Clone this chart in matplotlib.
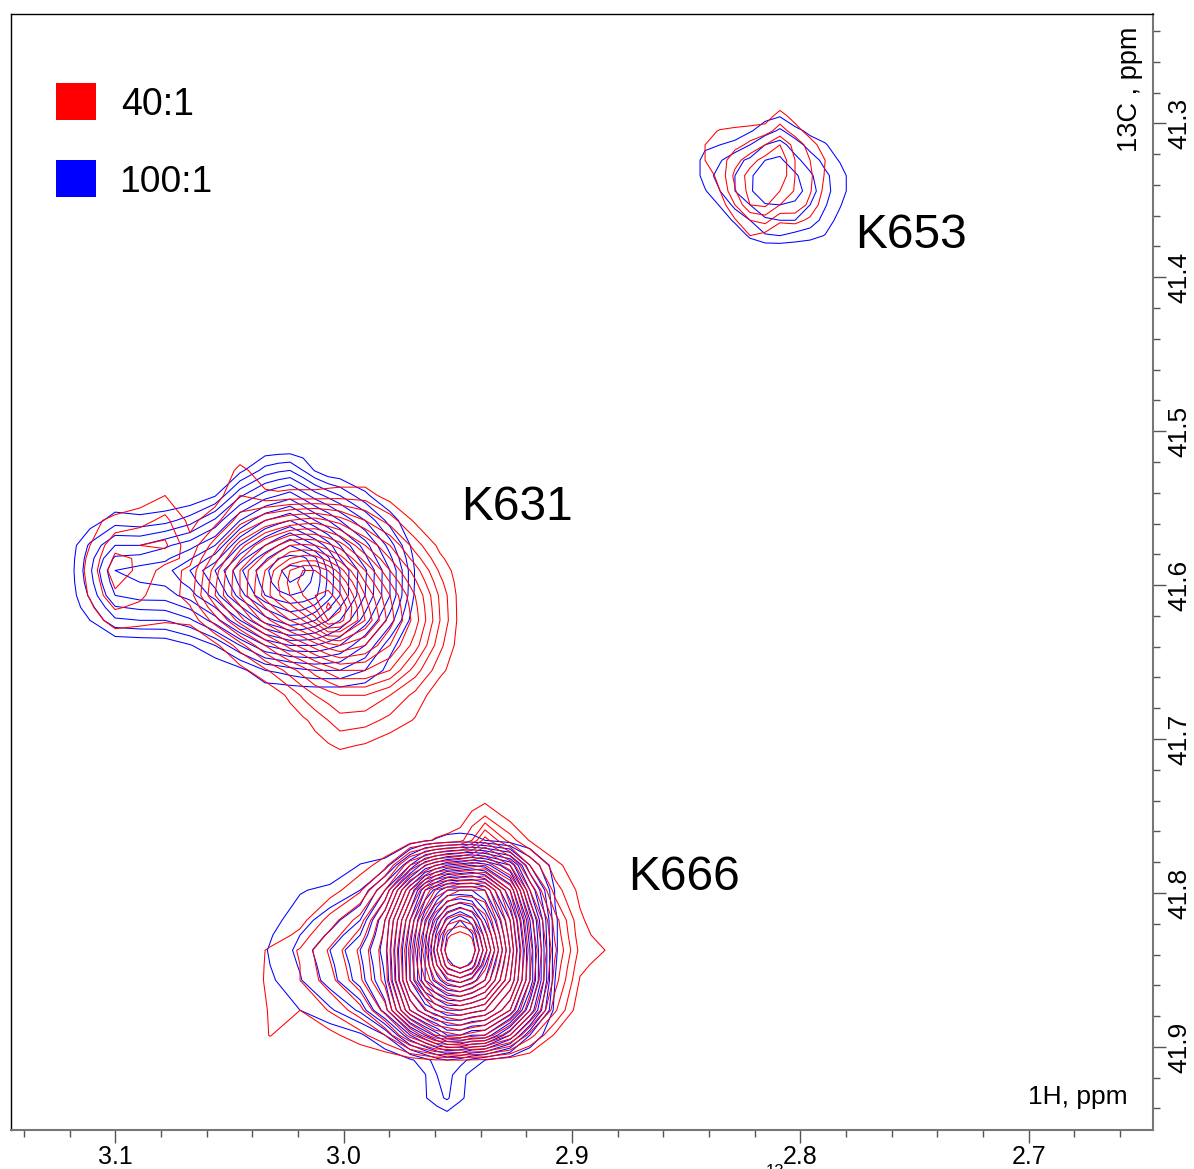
import numpy as np
import matplotlib
matplotlib.use("Agg")
import matplotlib.pyplot as plt
from matplotlib.patches import Rectangle
from matplotlib.ticker import MultipleLocator

plt.rcParams['font.family'] = ['Liberation Sans', 'DejaVu Sans']

W, H = 1194, 1169
LEFT, RIGHT, TOP, BOTTOM = 11, 1153, 14, 1130

# peak intensities, in units of one contour level
# K631
k631_h = [3.1220, 3.1111, 3.1001, 3.0892, 3.0782, 3.0673, 3.0563, 3.0454, 3.0344, 3.0287, 3.0235, 3.0178, 3.0125, 3.0068, 3.0016, 2.9906, 2.9797, 2.9687, 2.9578, 2.9468]
k631_c = [41.5093, 41.5255, 41.5418, 41.5580, 41.5742, 41.5827, 41.5905, 41.5982, 41.6067, 41.6145, 41.6229, 41.6392, 41.6554, 41.6716, 41.6879, 41.7041, 41.7203]
k631_red = [
    [0, 0, 0, 0, 0, 0, 0, 0, 0, 0, 0, 0, 0, 0, 0, 0, 0, 0, 0, 0],
    [0, 0, 0, 0, 0, 0, 0, 1.3, .4, 0, 0, 0, 0, 0, 0, 0, 0, 0, 0, 0],
    [0, 0, 0, .4, 1.0, 0, .5, 2, 1.2, 1.2, 1.3, 1.3, 1.3, 1.4, 1.5, 1.5, .5, 0, 0, 0],
    [0, .7, 1.3, 1.6, 2.3, .7, 1.6, 3.5, 5, 5.5, 6, 6.3, 6.5, 6, 5.5, 4, 2.5, .8, 0, 0],
    [0, 1, 2.7, 3, 3.2, 1.3, 3.5, 6.5, 9, 10, 11, 11.2, 11, 10.3, 9.5, 7, 5, 2.5, .7, 0],
    [0, 1.2, 3.2, 2.9, 2.4, 1.7, 4.5, 7.8, 10.5, 11.8, 13, 13.5, 13.5, 12.5, 11.5, 8.5, 6, 3.5, 1.2, 0],
    [0, 1.3, 3.7, 2.7, 1.6, 2.2, 5.5, 9, 12, 13.5, 15, 16, 16, 15, 13.5, 10, 7, 4.5, 1.8, 0],
    [0, 1.2, 3.2, 2.4, 1.5, 2.3, 5.8, 9, 12.3, 14, 15.3, 16.5, 16.6, 16.2, 15, 11, 8, 5.2, 2.3, 0],
    [0, 1.1, 2.8, 2.2, 1.3, 2.5, 6, 9, 12.5, 13.8, 15, 16, 17, 17.5, 16.2, 12, 9, 6, 2.8, 0],
    [0, .8, 2.1, 1.8, 1.2, 1.9, 4.8, 7.8, 11, 12.5, 13.5, 15, 16, 18.3, 17.2, 12.5, 9.3, 6.3, 2.9, 0],
    [0, .4, 1.5, 1.3, 1.1, 1.2, 3.5, 6.5, 9.5, 10.8, 12, 13, 14.5, 17, 16.5, 13, 9.5, 6.5, 3, 0],
    [0, 0, 0, 0, 0, .1, .7, 2.5, 5, 6.3, 7.5, 8.5, 9.5, 10.5, 11, 10, 8, 5.5, 2.3, 0],
    [0, 0, 0, 0, 0, 0, 0, .6, 1.8, 2.6, 3.5, 4.5, 5.5, 6.3, 7, 7, 6, 3.5, 1.3, 0],
    [0, 0, 0, 0, 0, 0, 0, 0, 0, .6, 1.3, 2.2, 3, 3.5, 4, 4, 3, 1.7, .2, 0],
    [0, 0, 0, 0, 0, 0, 0, 0, 0, 0, .3, .8, 1.3, 2, 2.6, 2.4, 1.7, .9, 0, 0],
    [0, 0, 0, 0, 0, 0, 0, 0, 0, 0, 0, 0, .6, .9, 1.2, .9, .3, 0, 0, 0],
    [0, 0, 0, 0, 0, 0, 0, 0, 0, 0, 0, 0, 0, 0, 0, 0, 0, 0, 0, 0],
]
k631_blue = [
    [0, 0, 0, 0, 0, 0, 0, 0, 0, 0, 0, 0, 0, 0, 0, 0, 0, 0, 0, 0],
    [0, 0, 0, 0, 0, 0, 0, .7, 2.4, 2.8, 3, 2, .9, .1, 0, 0, 0, 0, 0, 0],
    [0, 0, 0, 0, 0, 0, .9, 3.8, 5.5, 6, 6.5, 5.5, 4.5, 3.7, 3, 1.2, .1, 0, 0, 0],
    [0, .4, 1.5, 1.3, 1.6, 2.5, 4.2, 7, 9, 9.5, 10, 9, 8, 7, 6, 4, 1.5, 0, 0, 0],
    [0, 2.2, 4, 4, 4.8, 5.6, 7, 10, 12, 13, 14, 13, 12, 10.5, 9, 6.5, 3.5, .4, 0, 0],
    [0, 2.6, 5.2, 5.4, 5.8, 6.9, 8.5, 11.5, 13.8, 15, 15.3, 15.3, 14.2, 12.2, 10, 7.3, 4.3, .7, 0, 0],
    [0, 2.8, 6, 6.4, 6.6, 8, 10, 12.8, 14.7, 15.8, 16.5, 16.3, 14.8, 12.8, 11, 8.2, 5, .9, 0, 0],
    [0, 2.6, 5.6, 6, 6.2, 7.4, 9.4, 12.3, 14.5, 15.5, 16, 15.5, 14.7, 12.8, 11, 8.1, 5, .9, 0, 0],
    [0, 2.2, 5, 5.5, 5.5, 6.5, 8.5, 11.5, 14, 14.7, 15, 14.8, 14.3, 12.6, 11, 8, 5, .8, 0, 0],
    [0, 1.6, 3.9, 4.2, 4.3, 5.2, 7, 9.8, 12.2, 13, 13.5, 13.3, 12.6, 11.2, 10, 7.3, 4.3, .5, 0, 0],
    [0, 1, 2.8, 3, 3, 3.8, 5.5, 8, 10.5, 11.2, 12, 11.7, 11, 10, 9, 6.5, 3.5, .2, 0, 0],
    [0, 0, 0, .1, .2, .9, 2, 4, 6, 6.5, 7, 7, 7, 6.5, 6, 4, 1.3, 0, 0, 0],
    [0, 0, 0, 0, 0, 0, 0, .6, 2, 2.2, 2.5, 2.8, 3, 3, 3, 2, .6, 0, 0, 0],
    [0, 0, 0, 0, 0, 0, 0, 0, 0, 0, 0, 0, 0, 0, 0, 0, 0, 0, 0, 0],
]
k631_c_blue = k631_c[:14]

# K666
k666_h_red = [3.0454, 3.0322, 3.0191, 3.0060, 2.9928, 2.9819, 2.9709, 2.9600, 2.9543, 2.9490, 2.9438, 2.9381, 2.9271, 2.9184, 2.9074, 2.8965, 2.8855, 2.8768]
k666_c_red = [41.7333, 41.7495, 41.7658, 41.7820, 41.7982, 41.8177, 41.8274, 41.8372, 41.8469, 41.8567, 41.8762, 41.8924, 41.9086, 41.9249]
k666_red = [
    [0, 0, 0, 0, 0, 0, 0, 0, 0, 0, 0, 0, 0, 0, 0, 0, 0, 0],
    [0, 0, 0, 0, 0, 0, 0, 0, .2, .4, 1.2, 1.9, .5, 0, 0, 0, 0, 0],
    [0, 0, 0, 0, 0, 0, .3, 1.1, 1.3, 1.6, 3, 5.5, 2.5, .9, 0, 0, 0, 0],
    [0, 0, 0, 0, .5, 1.5, 6, 9, 9.5, 10, 10.5, 11, 8, 4, 1.3, .3, 0, 0],
    [0, 0, 0, .5, 1.8, 5, 11, 16, 17, 18, 18, 18, 13, 7, 2.5, .7, 0, 0],
    [0, 0, .6, 2.4, 4.5, 8, 14, 20, 22.3, 23, 22.3, 20.5, 15, 9.5, 4.5, 1.2, .1, 0],
    [0, .3, 1.3, 3.3, 5.4, 8.3, 14.8, 21.5, 24.8, 25.6, 24.8, 21.5, 15.5, 10, 4.8, 1.4, .5, 0],
    [0, 1.2, 2.1, 4.2, 6.2, 8.6, 15.5, 22.5, 25.7, 28, 25.8, 22.5, 16, 10.5, 5.2, 1.7, 1, 0],
    [.2, 1.2, 2, 3.9, 6, 8.5, 15.2, 21.5, 24.8, 25.6, 24.8, 21.5, 15.5, 10.2, 4.8, 1.3, .5, 0],
    [.3, 1.2, 2, 3.6, 5.8, 8.4, 15, 20, 21.7, 22.5, 21.7, 20, 15, 10, 4.5, .9, 0, 0],
    [0, 1.1, 1.0, 2.1, 3.6, 6.5, 12, 15, 15.5, 16, 15.5, 15, 12, 8, 3.2, .2, 0, 0],
    [0, 1.05, .1, .7, 1.6, 3, 6.5, 10, 10.5, 11, 10.5, 10, 7, 3.5, .8, 0, 0, 0],
    [0, 0, 0, 0, 0, 0, .4, .9, .95, 1.0, .9, .8, .3, 0, 0, 0, 0, 0],
    [0, 0, 0, 0, 0, 0, 0, 0, 0, 0, 0, 0, 0, 0, 0, 0, 0, 0],
]
k666_h_blue = [3.0454, 3.0322, 3.0191, 3.0060, 2.9928, 2.9819, 2.9709, 2.9643, 2.9591, 2.9547, 2.9490, 2.9438, 2.9381, 2.9271, 2.9184, 2.9074, 2.8965]
k666_c_blue = [41.7495, 41.7658, 41.7820, 41.7982, 41.8177, 41.8274, 41.8372, 41.8469, 41.8567, 41.8762, 41.8924, 41.9086, 41.9183, 41.9332, 41.9423, 41.9508]
k666_blue = [
    [0, 0, 0, 0, 0, 0, 0, 0, 0, 0, 0, 0, 0, 0, 0, 0, 0],
    [0, 0, 0, 0, 0, 0, .3, .85, 1.1, 1.3, 1.4, 1.3, 1, .3, 0, 0, 0],
    [0, 0, 0, 0, 1.05, 1.4, 5, 8, 9, 10, 10.5, 11, 10.5, 8, 3, .4, 0],
    [0, 0, .9, 1.3, 2, 5, 11, 15, 16.5, 18, 18, 18, 17, 12, 6, .9, 0],
    [0, .6, 1.6, 2.5, 4, 8, 14, 18, 21, 23.5, 25, 23.5, 20, 15, 9, 1.1, 0],
    [0, .9, 2, 3.2, 5, 8.3, 14.5, 18.5, 22.5, 25, 26.6, 25.2, 21.5, 15.5, 9.5, 1.1, 0],
    [0, 1.1, 2.3, 4, 6, 8.5, 15, 19, 23, 25.6, 28, 25.9, 22.5, 16, 10, 1.1, 0],
    [0, 1, 2.1, 3.7, 5.7, 8.2, 15, 19, 22, 24.4, 25.7, 24.6, 21, 15.5, 10, 1.05, 0],
    [0, .8, 1.9, 3.5, 5.5, 8, 15, 19, 20.5, 22, 22.5, 21.5, 20, 15, 10, 1, 0],
    [0, 0, 1, 1.8, 3.2, 6.5, 12, 14, 15, 16, 16, 15.5, 15, 12, 7, .5, 0],
    [0, 0, 0, .3, .8, 2, 6, 8, 9.5, 11, 11, 10, 10, 6, 2, 0, 0],
    [0, 0, 0, 0, 0, .2, .8, 1.6, 2.5, 3, 2.5, 1.6, 1, .2, 0, 0, 0],
    [0, 0, 0, 0, 0, 0, 0, .95, 2, 2.5, 1.3, .7, 0, 0, 0, 0, 0],
    [0, 0, 0, 0, 0, 0, 0, .9, 1.7, 2.15, 1.2, .6, 0, 0, 0, 0, 0],
    [0, 0, 0, 0, 0, 0, 0, 0, .5, .95, .4, 0, 0, 0, 0, 0, 0],
    [0, 0, 0, 0, 0, 0, 0, 0, 0, 0, 0, 0, 0, 0, 0, 0, 0],
]

# K653
k653_h = [2.8483, 2.8417, 2.8351, 2.8286, 2.8220, 2.8154, 2.8089, 2.8023, 2.7957, 2.7891, 2.7826, 2.7760]
k653_c = [41.285, 41.295, 41.305, 41.314, 41.324, 41.334, 41.344, 41.353, 41.363, 41.373, 41.383]
k653_red = [
    [0, 0, 0, 0, 0, 0, 0, 0, 0, 0, 0, 0],
    [0, 0, 0, 0, 0, .3, 1.5, .4, 0, 0, 0, 0],
    [0, .6, 1.1, 1.3, 1.5, 1.6, 2.4, 1.6, .4, 0, 0, 0],
    [0, 1.0, 1.3, 1.7, 2.2, 3, 4, 2.6, 1.6, .3, 0, 0],
    [0, 1.0, 1.5, 2.6, 3.6, 4.4, 4.8, 3, 2, 1, 0, 0],
    [0, .5, 1.3, 3.3, 4.4, 5, 4.8, 3, 2.2, .9, 0, 0],
    [0, 0, 1, 2.9, 4.4, 5, 4, 2.9, 2.1, .7, 0, 0],
    [0, 0, .4, 2, 4, 4.2, 3, 2.8, 1.7, .4, 0, 0],
    [0, 0, 0, .9, 2, 2.4, 1.2, 1.3, .8, 0, 0, 0],
    [0, 0, 0, .2, 1, .6, 0, 0, 0, 0, 0, 0],
    [0, 0, 0, 0, 0, 0, 0, 0, 0, 0, 0, 0],
]
k653_blue = [
    [0, 0, 0, 0, 0, 0, 0, 0, 0, 0, 0, 0],
    [0, 0, 0, 0, 0, .7, .9, 0, 0, 0, 0, 0],
    [0, 0, 0, .4, .9, 1.5, 2.2, 1.4, .7, .4, 0, 0],
    [0, .7, 1.0, 1.3, 2, 3, 3.4, 2.5, 1.6, 1.1, .4, 0],
    [0, 1.5, 1.9, 2.7, 3.2, 4, 4.2, 3.3, 2.5, 1.7, .9, .2],
    [0, 1.5, 2.4, 3, 3.8, 4.8, 5, 4.2, 3.2, 2.2, 1.5, .3],
    [0, .9, 2, 3, 3.8, 5, 5.2, 4.5, 3.5, 2.3, 1.5, .3],
    [0, .2, 1.1, 2.3, 3, 3.9, 4, 3.8, 3, 2.1, 1.1, 0],
    [0, 0, .3, 1.2, 2, 2.8, 3, 3, 2.6, 1.6, .6, 0],
    [0, 0, 0, .2, 1.2, 1.9, 2, 1.7, 1.4, .95, 0, 0],
    [0, 0, 0, 0, 0, 0, 0, 0, 0, 0, 0, 0],
]

contour_levels = list(range(1, 26))
k653_levels = [1, 2, 3, 4]

x_ticks = [3.1, 3.0, 2.9, 2.8, 2.7]
y_ticks = [41.3, 41.4, 41.5, 41.6, 41.7, 41.8, 41.9]
peak_names = ["K653", "K631", "K666"]
series_names = ["40:1", "100:1"]


def fx(px):
    return px / W


def fy(py):
    return 1 - py / H


fig = plt.figure(figsize=(W / 100, H / 100), dpi=100)
ax = fig.add_axes([fx(LEFT), fy(BOTTOM), (RIGHT - LEFT) / W, (BOTTOM - TOP) / H])

ax.contour(k631_h, k631_c_blue, np.array(k631_blue), levels=contour_levels, colors="#0000ff", linewidths=0.75)
ax.contour(k666_h_blue, k666_c_blue, np.array(k666_blue), levels=contour_levels, colors="#0000ff", linewidths=0.75)
ax.contour(k653_h, k653_c, np.array(k653_blue), levels=k653_levels, colors="#0000ff", linewidths=0.75)
ax.contour(k631_h, k631_c, np.array(k631_red), levels=contour_levels, colors="#ff0000", linewidths=0.75)
ax.contour(k666_h_red, k666_c_red, np.array(k666_red), levels=contour_levels, colors="#ff0000", linewidths=0.75)
ax.contour(k653_h, k653_c, np.array(k653_red), levels=k653_levels, colors="#ff0000", linewidths=0.75)

ax.set_xlim(3.1457, 2.6455)
ax.set_ylim(41.954, 41.229)

ax.yaxis.tick_right()
ax.set_xticks(x_ticks)
ax.set_yticks(y_ticks)
ax.xaxis.set_minor_locator(MultipleLocator(0.02))
ax.yaxis.set_minor_locator(MultipleLocator(0.02))
ax.set_xticklabels([f"{v:.1f}" for v in x_ticks])
ax.set_yticklabels([f"{v:.1f}" for v in y_ticks], rotation=90, va="center")
ax.tick_params(axis="both", which="major", length=9, width=1, color="#555555", labelsize=18, pad=2)
ax.tick_params(axis="both", which="minor", length=5, width=1, color="#555555")
ax.tick_params(axis="y", which="major", labelsize=19, pad=1.5)

for s in ["left", "top"]:
    ax.spines[s].set_color("black")
    ax.spines[s].set_linewidth(1)
for s in ["right", "bottom"]:
    ax.spines[s].set_color("#777777")
    ax.spines[s].set_linewidth(1.5)

# peak names
for name, px, py in zip(peak_names, [911, 517, 684], [236, 508, 877]):
    fig.text(fx(px), fy(py), name, fontsize=34.5, ha="center", va="center")

# legend
fig.add_artist(Rectangle((fx(56), fy(120)), 40 / W, 37 / H, transform=fig.transFigure, color="#ff0000", lw=0))
fig.add_artist(Rectangle((fx(56), fy(197)), 40 / W, 37 / H, transform=fig.transFigure, color="#0000ff", lw=0))
fig.text(fx(121), fy(105), series_names[0], fontsize=27, ha="left", va="center")
fig.text(fx(119), fy(182), series_names[1], fontsize=26.7, ha="left", va="center")

# axis names
fig.text(fx(1128), fy(1097), "1H, ppm", fontsize=19, ha="right", va="center")
fig.text(fx(1130), fy(89), "13C , ppm", fontsize=19.5, rotation=90, ha="center", va="center")
fig.text(fx(775), fy(1164), "13", fontsize=12, ha="center", va="top")

fig.savefig("out.png", dpi=100)
